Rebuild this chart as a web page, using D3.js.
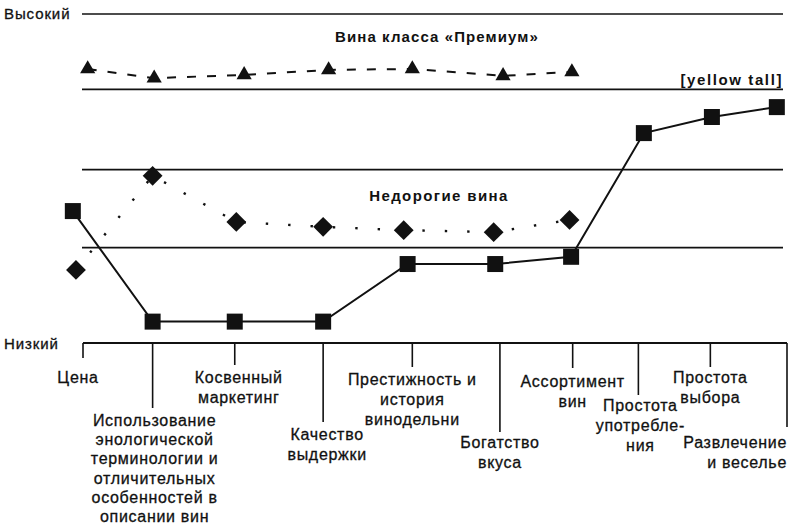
<!DOCTYPE html>
<html>
<head>
<meta charset="utf-8">
<script src="https://cdn.jsdelivr.net/npm/d3@7"></script>
<style>
  body { margin: 0; background: #fff; }
  text { font-family: "Liberation Sans", Arial, sans-serif; fill: #111; }
  text.reg { stroke: #111; stroke-width: 0.3; }
</style>
</head>
<body>
<svg id="chart" width="790" height="526"></svg>
<script>
// categories along the bottom (line breaks as in the picture)
const categories = [
  'Цена',
  'Использование\nэнологической\nтерминологии и\nотличительных\nособенностей в\nописании вин',
  'Косвенный\nмаркетинг',
  'Качество\nвыдержки',
  'Престижность и\nистория\nвинодельни',
  'Богатство\nвкуса',
  'Ассортимент\nвин',
  'Простота\nупотребле-\nния',
  'Простота\nвыбора',
  'Развлечение\nи веселье'
];
// where each category sits along the axis (axis units, 0..9)
const categoryPos = [0, 0.89, 1.94, 3.07, 4.21, 5.33, 6.26, 7.10, 8.02, 9];

// [yellow tail] — squares, solid line
const yellowTailX = [-0.13, 0.89, 1.94, 3.07, 4.15, 5.27, 6.24, 7.17, 8.04, 8.87];
const yellowTail = [4.01, 0.65, 0.65, 0.65, 2.40, 2.40, 2.62, 6.38, 6.87, 7.17];

// inexpensive wines — diamonds, dotted line
const budgetX = [-0.09, 0.89, 1.96, 3.07, 4.10, 5.25, 6.22];
const budget = [2.22, 5.08, 3.68, 3.53, 3.43, 3.37, 3.74];

// premium wines — triangles, dashed line
const premiumX = [0.06, 0.91, 2.06, 3.14, 4.21, 5.37, 6.25];
const premium = [8.33, 8.05, 8.15, 8.30, 8.33, 8.12, 8.24];

// horizontal guide lines (value scale 0 = Низкий, 10 = Высокий)
const guideLines = [10, 7.71, 5.27, 2.90];

// layout only
const tickLen = [15, 65, 22, 79, 24, 89, 25, 52, 24, 84];
const labelTop = [383, 426, 383, 440, 385, 448, 387, 411, 383, 448];
const labelDx = [-5, 2, 4, 4, 0, 0, 0, 2, 0, 0];
const lineHeight = [20, 19.2, 20, 20, 20, 20, 20, 20, 20, 20];

const svg = d3.select('#chart');
const x = d3.scaleLinear().domain([0, 9]).range([83, 787]);
const y = d3.scaleLinear().domain([0, 10]).range([343, 14]);
const guideRight = 783;

svg.append('g')
  .selectAll('line')
  .data(guideLines)
  .join('line')
  .attr('x1', x(0) - 1)
  .attr('x2', guideRight)
  .attr('y1', (d) => y(d))
  .attr('y2', (d) => y(d))
  .attr('stroke', '#111')
  .attr('stroke-width', 1.6);

// bottom axis with ticks of different length
const axis = svg.append('g');
axis.append('line')
  .attr('x1', x(0))
  .attr('x2', x(9))
  .attr('y1', y(0))
  .attr('y2', y(0))
  .attr('stroke', '#111')
  .attr('stroke-width', 1.8);

axis.selectAll('.tick')
  .data(categoryPos)
  .join('line')
  .attr('class', 'tick')
  .attr('x1', (d) => x(d))
  .attr('x2', (d) => x(d))
  .attr('y1', y(0))
  .attr('y2', (d, i) => y(0) + tickLen[i])
  .attr('stroke', '#111')
  .attr('stroke-width', 1.6);

const labels = axis.selectAll('.cat')
  .data(categories)
  .join('text')
  .attr('class', 'cat reg')
  .attr('font-size', 16)
  .attr('letter-spacing', 0.7)
  .attr('text-anchor', (d, i) => (i === categories.length - 1 ? 'end' : 'middle'));

labels.selectAll('tspan')
  .data((d, i) => d.split('\n').map((t) => ({ t, i })))
  .join('tspan')
  .attr('x', (d) => x(categoryPos[d.i]) + labelDx[d.i])
  .attr('y', (d, j) => labelTop[d.i] + j * lineHeight[d.i])
  .text((d) => d.t);

// scale end labels
svg.append('text').attr('class', 'reg').attr('x', 4).attr('y', 19).attr('font-size', 15).attr('letter-spacing', 0.9).text('Высокий');
svg.append('text').attr('class', 'reg').attr('x', 4).attr('y', 349).attr('font-size', 15).attr('letter-spacing', 0.9).text('Низкий');

// group titles
svg.append('text').attr('x', 437).attr('y', 42).attr('text-anchor', 'middle')
  .attr('font-size', 15).attr('font-weight', 'bold').attr('letter-spacing', 1.1)
  .text('Вина класса «Премиум»');
svg.append('text').attr('x', 439).attr('y', 201).attr('text-anchor', 'middle')
  .attr('font-size', 15).attr('font-weight', 'bold').attr('letter-spacing', 1.4)
  .text('Недорогие вина');
svg.append('text').attr('x', guideRight).attr('y', 85).attr('text-anchor', 'end')
  .attr('font-size', 15).attr('font-weight', 'bold').attr('letter-spacing', 1.6)
  .text('[yellow tall]');

const line = d3.line().x((d) => x(d[0])).y((d) => y(d[1]));
const series = [
  { xs: premiumX, vs: premium, dash: '9 11', width: 2, symbol: d3.symbolTriangle, size: 100, rotate: 0 },
  { xs: budgetX, vs: budget, dash: '2.4 20', width: 2.4, symbol: d3.symbolSquare, size: 196, rotate: 45 },
  { xs: yellowTailX, vs: yellowTail, dash: null, width: 2, symbol: d3.symbolSquare, size: 256, rotate: 0 }
];

series.forEach((s) => {
  const pts = s.xs.map((v, i) => [v, s.vs[i]]);
  svg.append('path')
    .datum(pts)
    .attr('d', line)
    .attr('fill', 'none')
    .attr('stroke', '#111')
    .attr('stroke-width', s.width)
    .attr('stroke-dasharray', s.dash);

  svg.append('g')
    .selectAll('path')
    .data(pts)
    .join('path')
    .attr('d', d3.symbol(s.symbol, s.size))
    .attr('transform', (d) => `translate(${x(d[0])},${y(d[1])}) rotate(${s.rotate})`)
    .attr('fill', '#111');
});
</script>
</body>
</html>
